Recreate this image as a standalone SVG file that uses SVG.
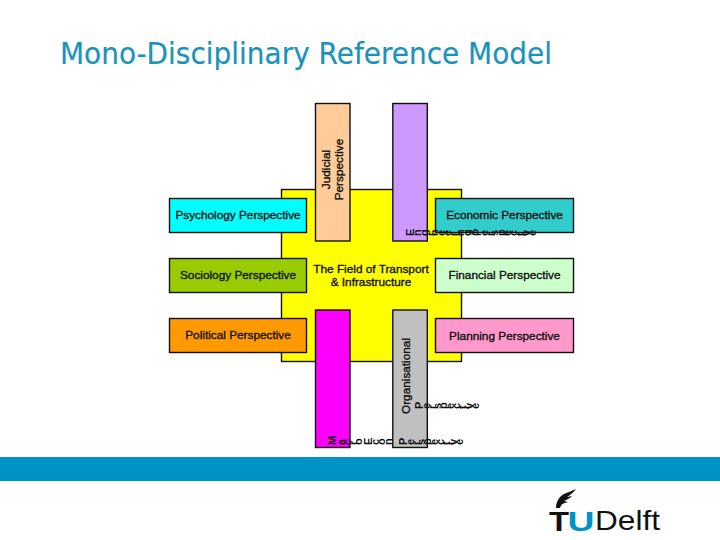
<svg xmlns="http://www.w3.org/2000/svg" width="720" height="540" viewBox="0 0 720 540">
<style>
.b{stroke:#111;stroke-width:1.4}
.t{font-family:"Liberation Sans",Arial,sans-serif;font-size:11.800px;fill:#111;stroke:#111;stroke-width:.35;text-anchor:middle}
.g{font-family:"Liberation Sans",Arial,sans-serif;font-size:11px;font-weight:bold;fill:#111}
</style>
<rect width="720" height="540" fill="#fff"/>
<text id="title" x="60" y="63.500" font-family="'DejaVu Sans',sans-serif" font-size="30.500" fill="#1A93BA" stroke="#1A93BA" stroke-width=".2" textLength="492" lengthAdjust="spacingAndGlyphs">Mono-Disciplinary Reference Model</text>
<g id="connectors"/>
<g id="field"><rect class="b" x="281.500" y="189.500" width="180" height="172" fill="#FFFF00"/>
<text class="t" x="371" y="273">The Field of Transport</text><text class="t" x="371" y="286">&amp; Infrastructure</text></g>
<g id="psychology"><rect class="b" x="169.500" y="198.500" width="137" height="34" fill="#00FFFF"/><text class="t" x="238" y="219">Psychology Perspective</text></g>
<g id="sociology"><rect class="b" x="169.500" y="258.500" width="137" height="34" fill="#99CC00"/><text class="t" x="238" y="279">Sociology Perspective</text></g>
<g id="political"><rect class="b" x="169.500" y="318.500" width="137" height="34" fill="#FF9900"/><text class="t" x="238" y="339">Political Perspective</text></g>
<g id="economic"><rect class="b" x="435.500" y="198.500" width="138" height="34" fill="#33CCCC"/><text class="t" x="504.500" y="219">Economic Perspective</text></g>
<g id="financial"><rect class="b" x="435.500" y="258.500" width="138" height="34" fill="#CCFFCC"/><text class="t" x="504.500" y="279">Financial Perspective</text></g>
<g id="planning"><rect class="b" x="435.500" y="318.500" width="138" height="34" fill="#FF99CC"/><text class="t" x="504.500" y="340">Planning Perspective</text></g>
<g id="judicial"><rect class="b" x="315.500" y="103.500" width="34.500" height="137.500" fill="#FFCC99"/>
<text class="t" transform="translate(330 169.500) rotate(-90)">Judicial</text><text class="t" transform="translate(343 169.500) rotate(-90)">Perspective</text></g>
<g id="engineering"><rect class="b" x="392.800" y="103.500" width="34.500" height="137.500" fill="#CC99FF"/>
<text class="g" x="414" y="236" rotate="-90">Engineering Perspective</text></g>
<g id="macro"><rect class="b" x="315.500" y="310" width="34.500" height="137.500" fill="#FF00FF"/></g>
<g id="organisational"><rect class="b" x="392.800" y="310" width="34.500" height="137.500" fill="#C0C0C0"/>
<text class="t" transform="translate(410 376) rotate(-90)">Organisational</text>
<text class="g" x="423" y="409" rotate="-90">Perspective</text></g>
<text class="g" y="445" rotate="-90"><tspan x="336">Macro Econ</tspan> <tspan x="407">Perspective</tspan></text>
<rect id="band" x="0" y="457" width="720" height="24" fill="#0093C6"/>
<g id="logo">
<path d="M556 508C556 500 561 494 569 492L576 489C573 493 570 495 567 497L572 496C569 499 566 500 564 501L568 502C564 503 561 504 560 508Z" fill="#111"/>
<text x="549" y="531" font-family="'Liberation Sans',sans-serif" font-weight="bold" font-size="28" fill="#111" textLength="20" lengthAdjust="spacingAndGlyphs">T</text>
<text x="567.500" y="531" font-family="'Liberation Sans',sans-serif" font-weight="bold" font-size="28" fill="#0093C6" textLength="27" lengthAdjust="spacingAndGlyphs">U</text>
<text x="595" y="530" font-family="'Liberation Sans',sans-serif" font-size="28" fill="#111" textLength="65" lengthAdjust="spacingAndGlyphs">Delft</text>
</g>
</svg>
